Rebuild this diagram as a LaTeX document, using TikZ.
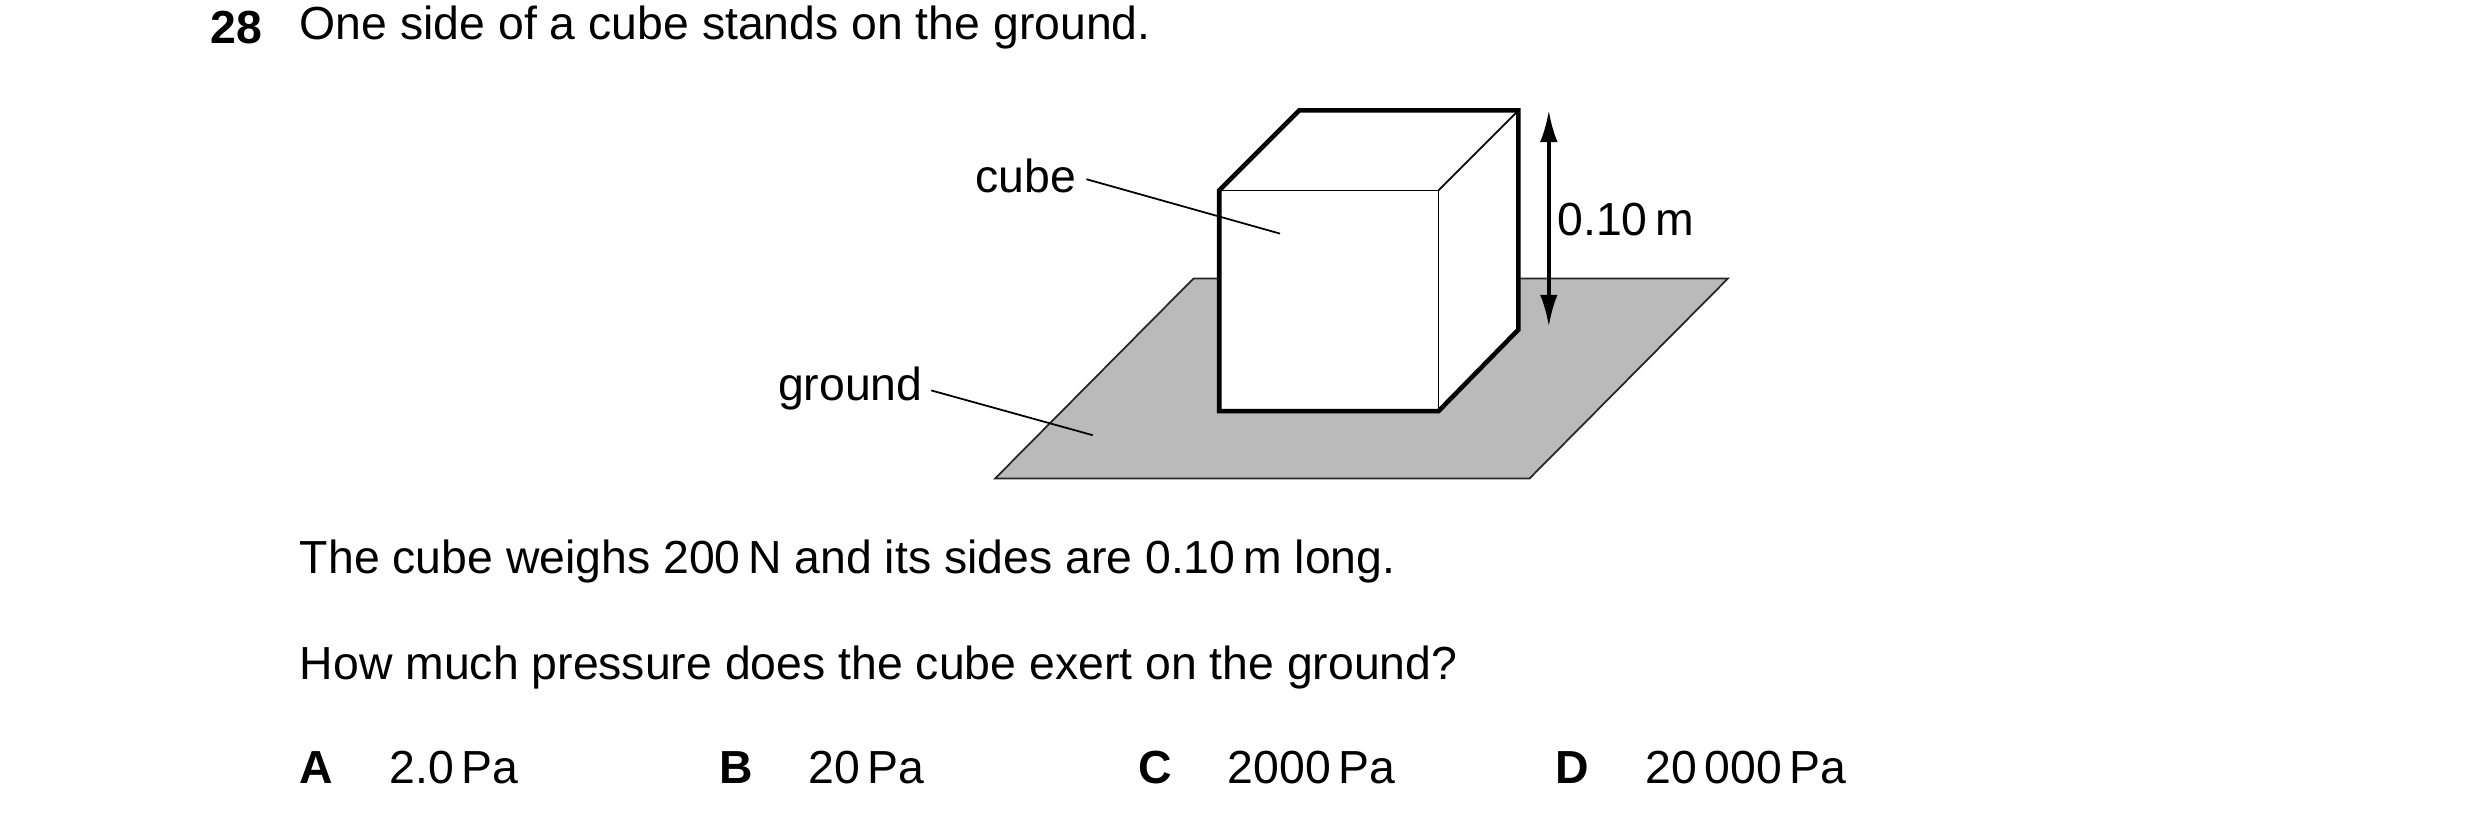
\documentclass[tikz,border=0pt]{standalone}
\usepackage{fontspec}
\setmainfont{Liberation Sans}
\usepackage{tikz}
\usetikzlibrary{arrows.meta,calc}

\begin{document}
\begin{tikzpicture}[x=0.016cm,y=-0.016cm,
    txt/.style={anchor=west,inner sep=0pt,font=\fontsize{13.2}{15}\selectfont},
    lbl/.style={inner sep=0pt,font=\fontsize{13.2}{15}\selectfont}]
    \useasboundingbox (0,0) rectangle (1550,509);
    % question
    \node[txt,font=\fontsize{13.2}{15}\selectfont\bfseries] (num) at (131,17) {28};
    \node[txt] (q1) at (187,17) {One side of a cube stands on the ground.};

    % ground
    \coordinate (G1) at (746,174);
    \coordinate (G2) at (1080,174);
    \coordinate (G3) at (956,299);
    \coordinate (G4) at (622,299);
    \filldraw[fill=black!27,draw=black!85,line width=0.5pt] (G1) -- (G2) -- (G3) -- (G4) -- cycle;

    % cube
    \coordinate (FA) at (762,119);
    \coordinate (FB) at (899,119);
    \coordinate (FC) at (899,257);
    \coordinate (FD) at (762,257);
    \coordinate (BA) at (812,69);
    \coordinate (BB) at (949,69);
    \coordinate (BC) at (949,206);
    \filldraw[fill=white,line width=1.3pt] (FD) -- (FA) -- (BA) -- (BB) -- (BC) -- (FC) -- cycle;
    \draw[line width=0.5pt] (FA) -- (FB) -- (FC);
    \draw[line width=0.5pt] (FB) -- (BB);

    % height arrow
    \coordinate (AT) at (968,69);
    \coordinate (AB) at (968,204);
    \draw[line width=1pt,{Latex[length=9pt,width=5pt]}-{Latex[length=9pt,width=5pt]}] (AT) -- (AB);
    \node[lbl,anchor=west] (h) at (973,137) {0.10\,m};

    % labels
    \node[lbl,anchor=east] (cube) at (673,110) {cube};
    \coordinate (cubept) at (800,146);
    \draw[line width=0.5pt] ($(cube.east)+(6,2)$) -- (cubept);
    \node[lbl,anchor=east] (ground) at (577,243) {ground};
    \coordinate (groundpt) at (683,272);
    \draw[line width=0.5pt] ($(ground.east)+(5,1)$) -- (groundpt);

    % text below
    \node[txt] (q2) at (187,351) {The cube weighs 200\,N and its sides are 0.10\,m long.};
    \node[txt] (q3) at (187,417) {How much pressure does the cube exert on the ground?};

    % options
    \foreach \x/\l/\v in {187/A/2.0\,Pa, 449/B/20\,Pa, 711/C/2000\,Pa, 972/D/20\,000\,Pa}{
        \node[txt,font=\fontsize{13.2}{15}\selectfont\bfseries] (opt\l) at (\x,480) {\l};
        \node[txt] (val\l) at (\x+56,480) {\v};
    }
\end{tikzpicture}
\end{document}
